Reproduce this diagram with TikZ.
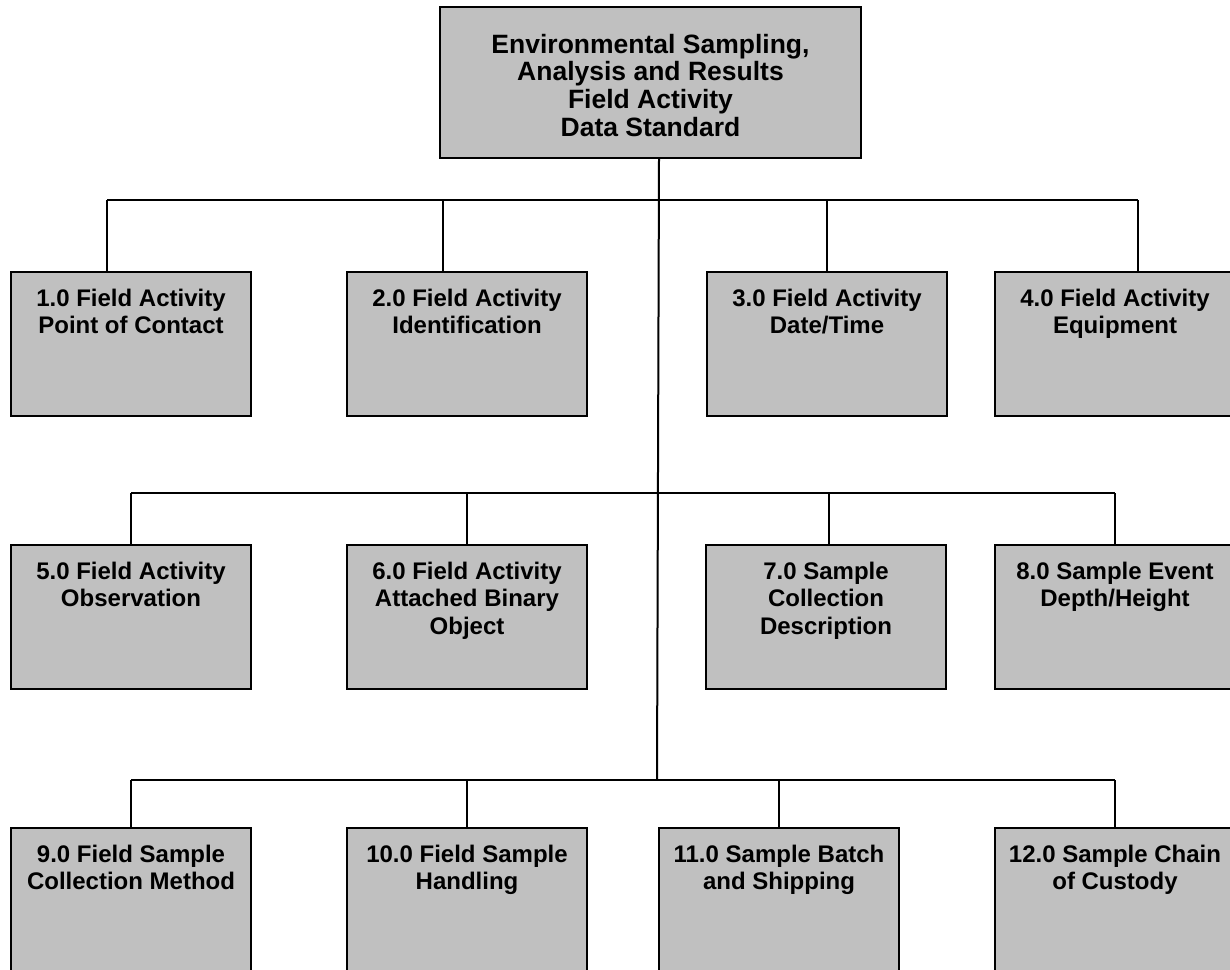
\documentclass[tikz,border=0pt]{standalone}
\usepackage{fontspec}
\setmainfont{Liberation Sans}
\definecolor{boxgray}{HTML}{C0C0C0}
\tikzset{
  lowbox/.style={draw=black, line width=1pt, fill=boxgray, inner sep=0pt, outer sep=0pt, anchor=north west},
  conn/.style={draw=black, line width=1pt},
}
\newcommand{\lowtext}[1]{\parbox[c][72pt][t]{120pt}{\centering\fontsize{12}{13.65}\selectfont\bfseries\rule{0pt}{17.3pt}#1}}
\newcommand{\toptext}[1]{\parbox[c][75.5pt][t]{210.5pt}{\centering\fontsize{13.25}{13.9}\selectfont\bfseries\rule{0pt}{23pt}#1}}
\begin{document}
\begin{tikzpicture}[x=0.5pt,y=-0.5pt]
\useasboundingbox (0,0) rectangle (1230,969);
\fill[white] (0,0) rectangle (1230,969);

% top box
\node[lowbox] (top) at (440,7) {\toptext{Environmental Sampling,\\Analysis and Results\\Field Activity\\Data Standard}};

% row 1
\node[lowbox] (b1) at (11,272) {\lowtext{1.0 Field Activity\\Point of Contact}};
\node[lowbox] (b2) at (347,272) {\lowtext{2.0 Field Activity\\Identification}};
\node[lowbox] (b3) at (707,272) {\lowtext{3.0 Field Activity\\Date/Time}};
\node[lowbox] (b4) at (995,272) {\lowtext{4.0 Field Activity\\Equipment}};

% row 2
\node[lowbox] (b5) at (11,545) {\lowtext{5.0 Field Activity\\Observation}};
\node[lowbox] (b6) at (347,545) {\lowtext{6.0 Field Activity\\Attached Binary\\Object}};
\node[lowbox] (b7) at (706,545) {\lowtext{7.0 Sample\\Collection\\Description}};
\node[lowbox] (b8) at (995,545) {\lowtext{8.0 Sample Event\\Depth/Height}};

% row 3
\node[lowbox] (b9) at (11,828) {\lowtext{9.0 Field Sample\\Collection Method}};
\node[lowbox] (b10) at (347,828) {\lowtext{10.0 Field Sample\\Handling}};
\node[lowbox] (b11) at (659,828) {\lowtext{11.0 Sample Batch\\and Shipping}};
\node[lowbox] (b12) at (995,828) {\lowtext{12.0 Sample Chain\\of Custody}};

% junction coordinates
\coordinate (j1a) at (107,200);
\coordinate (j1b) at (443,200);
\coordinate (j1c) at (827,200);
\coordinate (j1d) at (1138,200);
\coordinate (j2a) at (131,493);
\coordinate (j2b) at (467,493);
\coordinate (j2c) at (829,493);
\coordinate (j2d) at (1115,493);
\coordinate (j3a) at (131,780);
\coordinate (j3b) at (467,780);
\coordinate (j3c) at (779,780);
\coordinate (j3d) at (1115,780);
\coordinate (stemend) at (657,780);

% stem
\draw[conn] ([xshift=4.25pt]top.south) -- (stemend);

% row 1 connectors
\draw[conn] (j1a) -- (j1d);
\draw[conn] (j1a) -- (j1a |- b1.north);
\draw[conn] (j1b) -- (j1b |- b2.north);
\draw[conn] (j1c) -- (j1c |- b3.north);
\draw[conn] (j1d) -- (j1d |- b4.north);

% row 2 connectors
\draw[conn] (j2a) -- (j2d);
\draw[conn] (j2a) -- (j2a |- b5.north);
\draw[conn] (j2b) -- (j2b |- b6.north);
\draw[conn] (j2c) -- (j2c |- b7.north);
\draw[conn] (j2d) -- (j2d |- b8.north);

% row 3 connectors
\draw[conn] (j3a) -- (j3d);
\draw[conn] (j3a) -- (j3a |- b9.north);
\draw[conn] (j3b) -- (j3b |- b10.north);
\draw[conn] (j3c) -- (j3c |- b11.north);
\draw[conn] (j3d) -- (j3d |- b12.north);
\end{tikzpicture}
\end{document}
